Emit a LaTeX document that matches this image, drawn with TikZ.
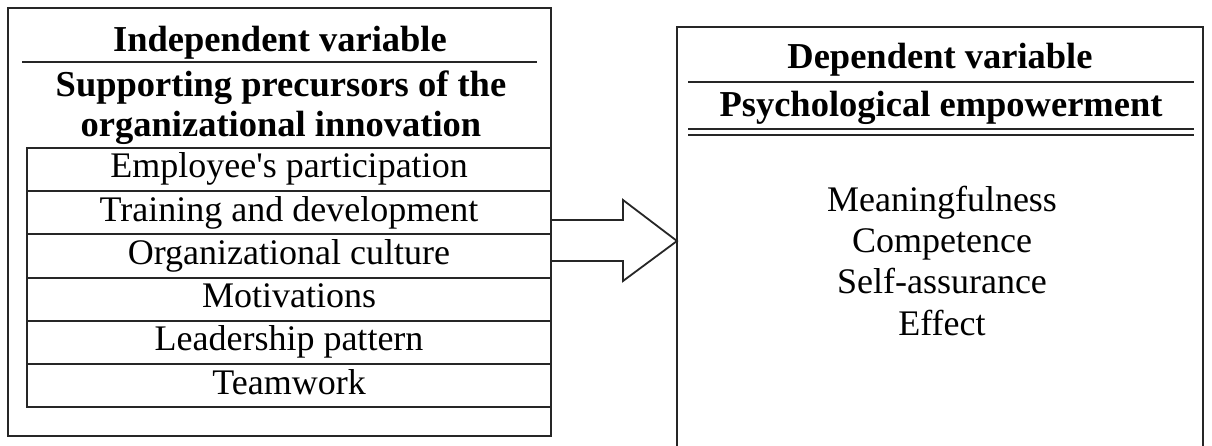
\documentclass[tikz,border=0pt]{standalone}
\usepackage{fontspec}
\setmainfont{Liberation Serif}
\newfontfamily\rawserif{Liberation Serif}
\begin{document}
\begin{tikzpicture}[x=1pt,y=-1pt,
  frame/.style={draw=black!85,line width=1.8pt},
  boxshape/.style={inner sep=0pt,outer sep=0pt},
  rowbox/.style={frame,boxshape,minimum width=524pt,minimum height=43.2pt,
     text height=26pt,text depth=9.2pt,font=\fontsize{36}{41}\selectfont},
  titletext/.style={inner sep=0pt,anchor=base,font=\fontsize{36.5}{41}\selectfont\bfseries},
  itemtext/.style={inner sep=0pt,anchor=base,font=\fontsize{36}{41}\selectfont},
  rule/.style={draw=black!85,line width=2pt},
  blockarrow/.style={draw=black!85,line width=1.8pt,line join=miter}]
\useasboundingbox (0,0) rectangle (1212,446);
\fill[white] (0,0) rectangle (1212,446);
% left outer box
\node[frame,boxshape,minimum width=543pt,minimum height=428pt] (L) at (279.5,222) {};
\node[titletext] (t1) at (280,52) {Independent variable};
\draw[rule] (22,62) -- (537,62);
\node[titletext] (t2) at (281,97) {Supporting precursors of the};
\node[titletext] (t3) at (281,137) {organizational innovation};
% rows
\node[rowbox] (r1) at (289,169.6) {{\rawserif Employee's} participation};
\node[rowbox] (r2) at (289,212.8) {Training and development};
\node[rowbox] (r3) at (289,256.0) {Organizational culture};
\node[rowbox] (r4) at (289,299.2) {Motivations};
\node[rowbox] (r5) at (289,342.4) {Leadership pattern};
\node[rowbox] (r6) at (289,385.6) {Teamwork};
% right box (open at the bottom edge of the picture)
\node[boxshape,minimum width=526pt,minimum height=419pt] (R) at (940,236.5) {};
\draw[frame] (R.south west) -- (R.north west) -- (R.north east) -- (R.south east);
\node[titletext] (d1) at (940,69) {Dependent variable};
\draw[rule] (688,82) -- (1194,82);
\node[titletext] (d2) at (941,117) {Psychological empowerment};
\draw[rule] (688,129.5) -- (1194,129.5);
\draw[rule] (688,135) -- (1194,135);
\node[itemtext] (m1) at (942,212) {Meaningfulness};
\node[itemtext] (m2) at (942,253) {Competence};
\node[itemtext] (m3) at (942,294) {Self-assurance};
\node[itemtext] (m4) at (942,335) {Effect};
% block arrow
\draw[blockarrow] (L.east |- 0,220) -- (623,220) -- (623,200) -- (R.west |- 0,241)
  -- (623,281) -- (623,261) -- (L.east |- 0,261);
\end{tikzpicture}
\end{document}
